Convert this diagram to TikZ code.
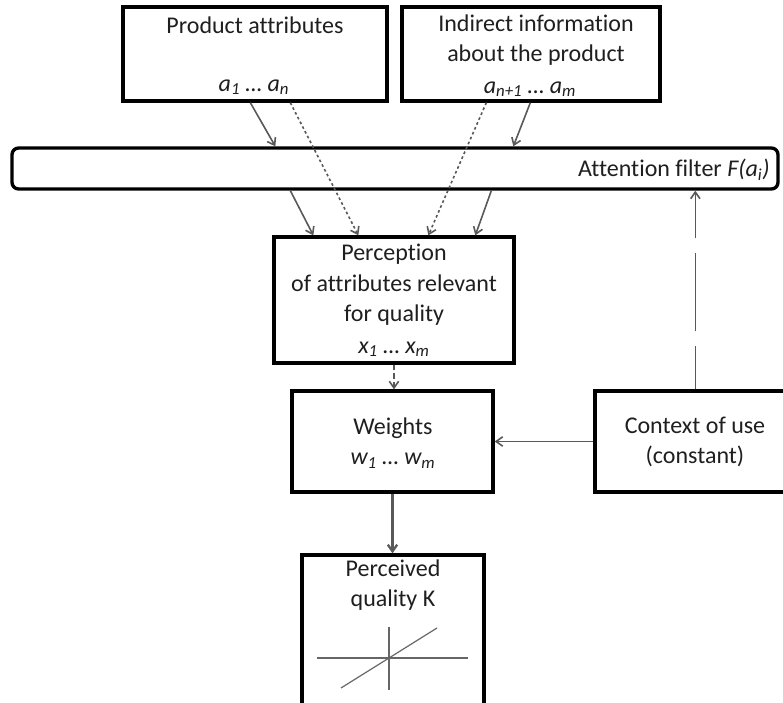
\documentclass[tikz,border=0pt]{standalone}
\usepackage{fontspec}
\setmainfont[Ligatures={NoCommon}]{Carlito}
\usetikzlibrary{arrows.meta,calc,fit}
\begin{document}
\begin{tikzpicture}[x=0.75pt,y=-0.75pt,
  box/.style={draw=black, line width=2.5pt, inner sep=0pt, fill=white},
  lbl/.style={font=\fontsize{18}{23}\selectfont, text=black!88, align=center, inner sep=0pt},
  conn/.style={draw=black!65, line width=1.2pt, -{Straight Barb[length=5pt,width=7pt]}},
  dotline/.style={conn, dash pattern=on 2pt off 2pt},
  shortdash/.style={conn, dash pattern=on 4pt off 2.5pt},
  longdash/.style={conn, dash pattern=on 58.5pt off 11.25pt, dash phase=26.25pt},
  chart/.style={draw=black!60, line width=0.9pt}
]
\useasboundingbox (0,0) rectangle (783,703);
\clip (0,0) rectangle (783,703);

% boxes
\node[box, fit={(123,7) (387,101)}] (pa) {};
\node[box, fit={(402,7) (660,101)}] (ii) {};
\node[box, rounded corners=5pt, fit={(12,148) (778,189)}] (filt) {};
\node[box, fit={(274,237) (514,363)}] (perc) {};
\node[box, fit={(292,391) (493,492)}] (wts) {};
\node[box, fit={(595,391) (810,492)}] (ctx) {};
\node[box, fit={(302,555) (484,720)}] (pq) {};

% texts
\node[lbl] (pat) at (255,25) {Product attributes};
\node[lbl] (pav) at (254,87) {\itshape a\textsubscript{1} … a\textsubscript{n}};
\node[lbl] (iit) at (536,40) {Indirect information\\about the product};
\node[lbl] (iiv) at (530,89) {\itshape a\textsubscript{n+1} … a\textsubscript{m}};
\node[lbl, anchor=east] (ft) at (770,170) {Attention filter \textit{F(a\textsubscript{i})}};
\node[lbl] (pct) at (394,285) {Perception\\of attributes relevant\\for quality};
\node[lbl] (pcv) at (394,349) {\itshape x\textsubscript{1} … x\textsubscript{m}};
\node[lbl] (wt) at (393,443) {Weights\\\itshape w\textsubscript{1} … w\textsubscript{m}};
\node[lbl] (ct) at (695,442) {Context of use\\(constant)};
\node[lbl] (pqt) at (393,585) {Perceived\\quality K};

% small chart
\draw[chart] (317,658) -- (468,658);
\draw[chart] (389,627) -- (389,690);
\draw[chart] (341,688) -- (437,628);

% connectors into the filter and into the perception box
\draw[conn] ($(pa.south west)+(129,0)$) -- ($(filt.north west)+(265,0)$);
\draw[dotline] ($(pa.south west)+(169,0)$) -- ($(perc.north west)+(86,0)$);
\draw[conn] ($(filt.south west)+(280,0)$) -- ($(perc.north west)+(41,0)$);
\draw[dotline] ($(ii.south west)+(86,0)$) -- ($(perc.north west)+(156,0)$);
\draw[conn] ($(ii.south west)+(130,0)$) -- ($(filt.north west)+(503,0)$);
\draw[conn] ($(filt.south west)+(481,0)$) -- ($(perc.north west)+(203,0)$);

% perception -> weights -> perceived quality
\draw[shortdash] (perc.south) -- (perc.south |- wts.north);
\draw[conn, line width=1.7pt] (wts.south) -- (wts.south |- pq.north);

% context of use
\draw[conn] (ctx.west) -- (wts.east);
\coordinate (cu) at ($(ctx.north west)+(102,0)$);
\draw[longdash] (cu) -- (cu |- filt.south);
\end{tikzpicture}
\end{document}
